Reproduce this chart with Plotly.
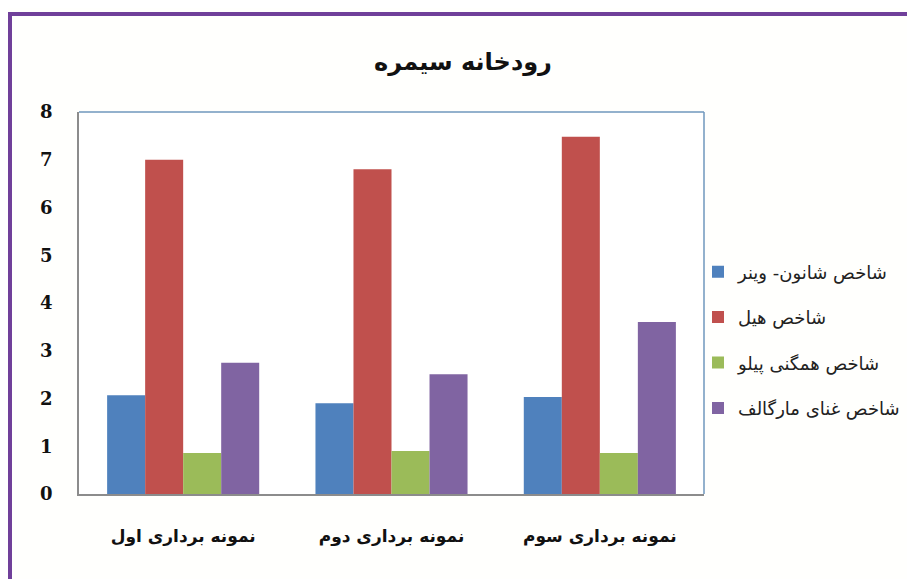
import plotly.graph_objects as go

categories = ["نمونه برداری اول", "نمونه برداری دوم", "نمونه برداری سوم"]
series_names = ["شاخص شانون- وینر", "شاخص هیل", "شاخص همگنی پیلو", "شاخص غنای مارگالف"]
shannon = [2.07, 1.90, 2.03]
hill = [7.00, 6.80, 7.48]
pielou = [0.86, 0.90, 0.86]
margalef = [2.75, 2.51, 3.60]
colors = ["#4f81bd", "#c0504d", "#9bbb59", "#8064a2"]
y_ticks = [0, 1, 2, 3, 4, 5, 6, 7, 8]
title = "رودخانه سیمره"

fig = go.Figure()
for i, (name, vals) in enumerate(zip(series_names, [shannon, hill, pielou, margalef])):
    fig.add_trace(go.Bar(x=categories, y=vals, name=name, marker_color=colors[i],
                         marker_line_width=0, legendgroup=str(i)))

# plot area in figure px: x 71..696, y 104..486 (page has an 8px body margin)
PW, PH = 625, 382
fig.update_layout(
    width=915, height=579,
    margin=dict(l=71, r=219, t=104, b=93),
    paper_bgcolor="#fffffd", plot_bgcolor="#ffffff",
    barmode="group", bargap=0.27, bargroupgap=0,
    title=dict(text=title, x=455 / 915, xanchor="center", y=1 - 54 / 579, yanchor="middle",
               yref="container", xref="container",
               font=dict(family="DejaVu Sans", size=24, color="#111111", weight="bold")),
    showlegend=True,
    legend=dict(x=(690 - 71) / PW, xanchor="left", y=(486 - 332) / PH, yanchor="middle",
                font=dict(family="DejaVu Sans", size=18, color="#222222"),
                tracegroupgap=19, bgcolor="rgba(0,0,0,0)", itemwidth=30),
    xaxis=dict(showline=True, linecolor="#8c8c8c", linewidth=1.5, ticks="",
               tickfont=dict(family="DejaVu Sans", size=17, color="#111111", weight="bold"),
               ticklabelstandoff=26),
    yaxis=dict(range=[0, 8], tickvals=y_ticks, showgrid=False, zeroline=False,
               showline=True, linecolor="#8c8c8c", linewidth=1.5, ticks="",
               tickfont=dict(family="DejaVu Serif", size=18, color="#111111", weight="bold"),
               ticklabelstandoff=21),
    shapes=[
        dict(type="line", xref="paper", yref="paper", x0=0, x1=1, y0=1, y1=1,
             line=dict(color="#6f97bd", width=1.5)),
        dict(type="line", xref="paper", yref="paper", x0=1, x1=1, y0=0, y1=1,
             line=dict(color="#6f97bd", width=1.5)),
        dict(type="line", xref="paper", yref="paper", x0=(2 - 71) / PW, x1=(2 - 71) / PW,
             y0=-1, y1=(486 - 4) / PH, line=dict(color="#70409a", width=4)),
        dict(type="line", xref="paper", yref="paper", x0=(0 - 71) / PW, x1=2,
             y0=(486 - 6) / PH, y1=(486 - 6) / PH, line=dict(color="#70409a", width=4)),
    ],
)

fig.write_html("out.html")
